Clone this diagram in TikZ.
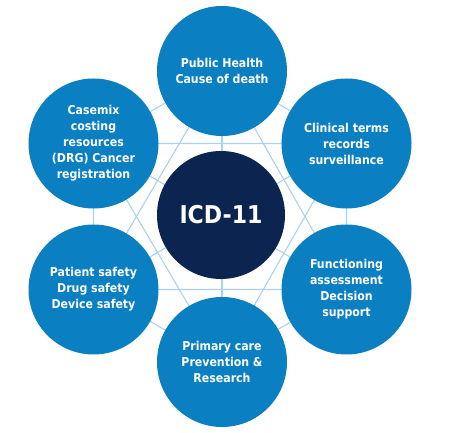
\documentclass[tikz,border=0pt]{standalone}
\usepackage{fontspec}
\setmainfont{DejaVu Sans Condensed}
\usetikzlibrary{backgrounds}
\definecolor{outerblue}{HTML}{0A7FC2}
\definecolor{navy}{HTML}{0B2550}
\definecolor{gridblue}{HTML}{A8D2F0}
\tikzset{
  outer/.style={circle, fill=outerblue, minimum size=130pt, inner sep=0pt,
    text=white, align=center, font=\bfseries\fontsize{12.2}{16}\selectfont},
  core/.style={circle, fill=navy, minimum size=128pt, inner sep=0pt,
    text=white, font=\bfseries\fontsize{24.5}{29}\selectfont},
  gridline/.style={draw=gridblue, line width=1.1pt}
}
\begin{document}
\begin{tikzpicture}[x=1pt,y=-1pt]
\useasboundingbox (0,0) rectangle (450,433);
\node[core] (c) at (221,215) {ICD-11};
\node[outer] (t) at (222,71) {Public Health\\Cause of death};
\node[outer] (ur) at (346.5,143.5) {Clinical terms\\records\\surveillance};
\node[outer] (lr) at (346.5,289.5) {Functioning\\assessment\\Decision\\support};
\node[outer] (b) at (222,362) {Primary care\\Prevention \&\\Research};
\node[outer] (ll) at (93.5,289.5) {Patient safety\\Drug safety\\Device safety};
\node[outer] (ul) at (93.5,143.5) {Casemix\\costing\\resources\\(DRG) Cancer\\registration};
\begin{scope}[on background layer]
  % hexagon
  \draw[gridline] (t.center) -- (ur.center) -- (lr.center) -- (b.center) -- (ll.center) -- (ul.center) -- cycle;
  % star
  \draw[gridline] (t.center) -- (lr.center) -- (ll.center) -- cycle;
  \draw[gridline] (ul.center) -- (ur.center) -- (b.center) -- cycle;
  % spokes
  \draw[gridline] (t.center) -- (b.center);
  \draw[gridline] (ul.center) -- (lr.center);
  \draw[gridline] (ur.center) -- (ll.center);
\end{scope}
\end{tikzpicture}
\end{document}
